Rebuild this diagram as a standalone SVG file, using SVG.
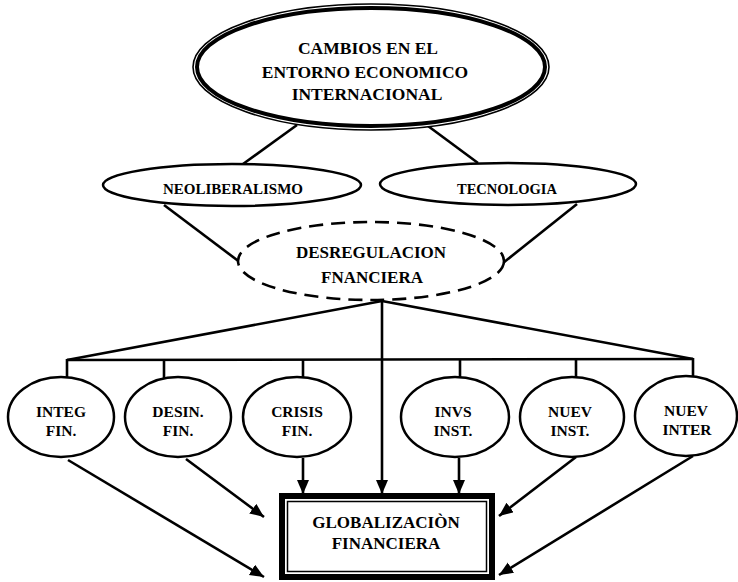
<svg xmlns="http://www.w3.org/2000/svg" width="738" height="582" viewBox="0 0 738 582">
<defs>
<style>
.t{font-family:"Liberation Serif","Times New Roman",serif;font-weight:bold;fill:#000;text-anchor:middle}
.n{fill:#fff;stroke:#000;stroke-width:2.5}
.c{stroke:#000;stroke-width:2.6;fill:none}
</style>
<marker id="ah" markerUnits="userSpaceOnUse" markerWidth="16" markerHeight="14" refX="14" refY="6" orient="auto">
<path d="M0,0 L14,6 L0,12 Z" fill="#000"/>
</marker>
</defs>
<rect width="738" height="582" fill="#fff"/>
<g id="connectors" class="c">
<line x1="297" y1="125" x2="243" y2="164"/>
<line x1="428" y1="126" x2="478" y2="163"/>
<line x1="164" y1="205" x2="241" y2="263"/>
<line x1="577" y1="204" x2="503" y2="263"/>
<line x1="382" y1="301" x2="67" y2="360"/>
<line x1="382" y1="301" x2="693" y2="359"/>
<line x1="67" y1="360" x2="693" y2="359"/>
<line x1="67" y1="359" x2="67" y2="378"/>
<line x1="164" y1="359" x2="164" y2="378"/>
<line x1="303" y1="359" x2="303" y2="378"/>
<line x1="460" y1="359" x2="460" y2="378"/>
<line x1="576" y1="359" x2="576" y2="378"/>
<line x1="693" y1="358" x2="693" y2="378"/>
<line x1="382" y1="301" x2="382" y2="494" marker-end="url(#ah)"/>
<line x1="68" y1="460" x2="264" y2="577" marker-end="url(#ah)"/>
<line x1="186" y1="459" x2="264" y2="517" marker-end="url(#ah)"/>
<line x1="303" y1="458" x2="303" y2="494" marker-end="url(#ah)"/>
<line x1="459" y1="458" x2="459" y2="494" marker-end="url(#ah)"/>
<line x1="576" y1="457" x2="499" y2="516" marker-end="url(#ah)"/>
<line x1="693" y1="456" x2="499" y2="575" marker-end="url(#ah)"/>
</g>
<g id="cambios">
<ellipse cx="371" cy="67" rx="178" ry="63" fill="#fff" stroke="#000" stroke-width="1.6"/>
<ellipse cx="371" cy="67" rx="174" ry="59" fill="#fff" stroke="#000" stroke-width="4"/>
<text class="t" x="368" y="54" font-size="17.5">CAMBIOS EN EL</text>
<text class="t" x="365" y="78" font-size="17.5">ENTORNO ECONOMICO</text>
<text class="t" x="367" y="100" font-size="17.5">INTERNACIONAL</text>
</g>
<g id="neoliberalismo">
<ellipse class="n" cx="232" cy="185" rx="129" ry="21"/>
<text class="t" x="233" y="194" font-size="15">NEOLIBERALISMO</text>
</g>
<g id="tecnologia">
<ellipse class="n" cx="508" cy="184" rx="128" ry="21"/>
<text class="t" x="507" y="194" font-size="14.5">TECNOLOGIA</text>
</g>
<g id="desregulacion">
<ellipse cx="371" cy="261" rx="133" ry="39" fill="#fff" stroke="#000" stroke-width="2.6" stroke-dasharray="14 8"/>
<text class="t" x="371" y="258" font-size="17">DESREGULACION</text>
<text class="t" x="372" y="283" font-size="17">FNANCIERA</text>
</g>
<g id="integ">
<ellipse class="n" cx="61" cy="417" rx="53" ry="40"/>
<text class="t" x="61" y="417" font-size="15.5">INTEG</text>
<text class="t" x="61" y="436" font-size="15.5">FIN.</text>
</g>
<g id="desin">
<ellipse class="n" cx="178" cy="417" rx="53" ry="40"/>
<text class="t" x="178" y="417" font-size="15.5">DESIN.</text>
<text class="t" x="178" y="436" font-size="15.5">FIN.</text>
</g>
<g id="crisis">
<ellipse class="n" cx="297" cy="417" rx="54" ry="40"/>
<text class="t" x="297" y="417" font-size="15.5">CRISIS</text>
<text class="t" x="297" y="436" font-size="15.5">FIN.</text>
</g>
<g id="invs">
<ellipse class="n" cx="455" cy="417" rx="54" ry="40"/>
<text class="t" x="453" y="417" font-size="15.5">INVS</text>
<text class="t" x="453" y="436" font-size="15.5">INST.</text>
</g>
<g id="nuevinst">
<ellipse class="n" cx="572" cy="417" rx="52" ry="40"/>
<text class="t" x="570" y="417" font-size="15.5">NUEV</text>
<text class="t" x="570" y="436" font-size="15.5">INST.</text>
</g>
<g id="nuevinter">
<ellipse class="n" cx="686" cy="416" rx="51" ry="40"/>
<text class="t" x="686" y="416" font-size="15.5">NUEV</text>
<text class="t" x="687" y="435" font-size="15.5">INTER</text>
</g>
<g id="globalizacion">
<rect x="282" y="496" width="210" height="81" fill="#fff" stroke="#000" stroke-width="6"/>
<rect x="287.5" y="501.5" width="199" height="70" fill="none" stroke="#000" stroke-width="1.5"/>
<text class="t" x="386" y="528" font-size="17">GLOBALIZACIÒN</text>
<text class="t" x="386" y="549" font-size="17">FINANCIERA</text>
</g>
</svg>
